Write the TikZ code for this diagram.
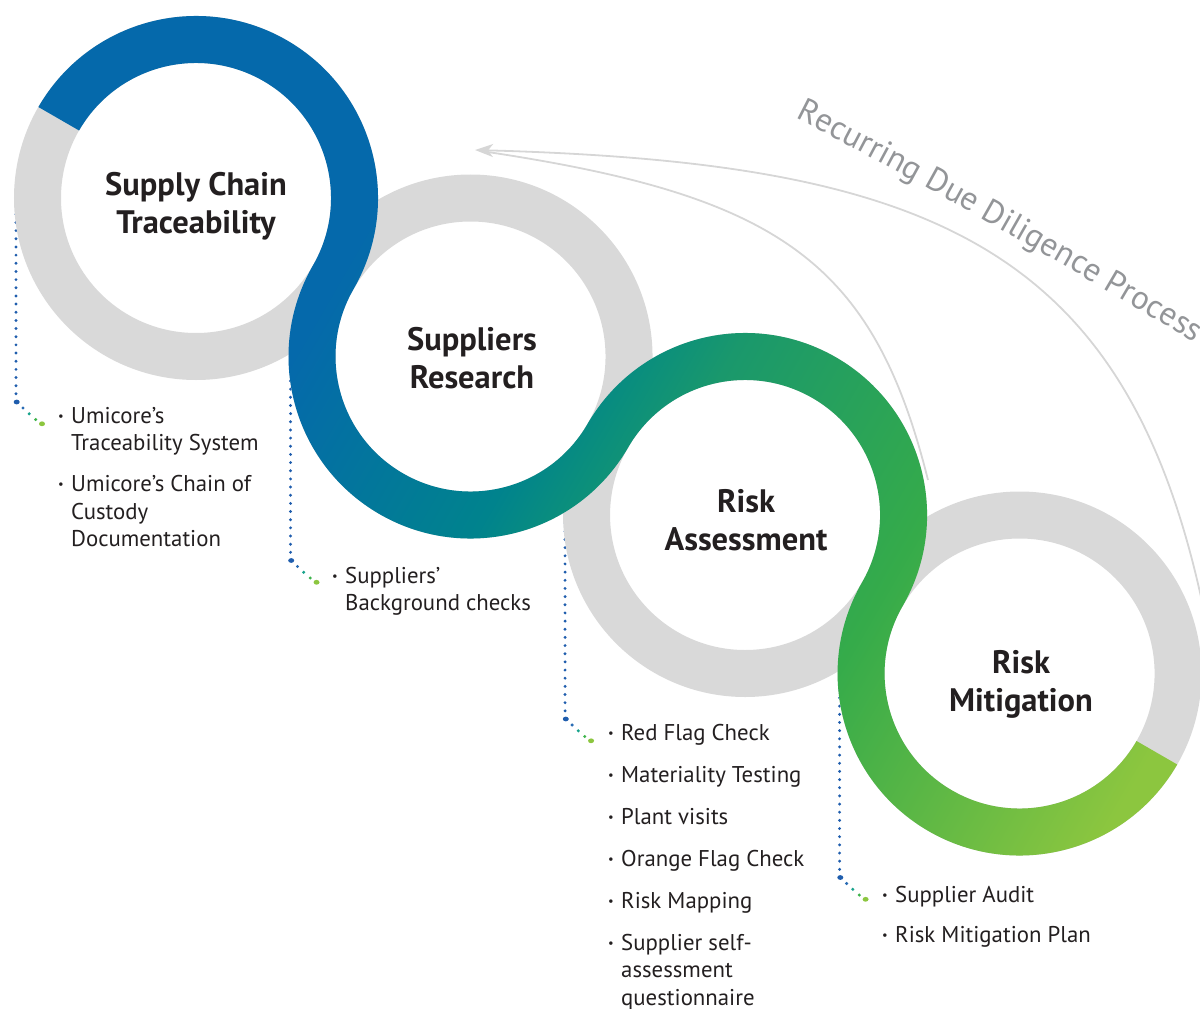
\documentclass[tikz,border=0pt]{standalone}
\usepackage{fontspec}
\setmainfont{PT Sans}
\usetikzlibrary{decorations.text, arrows.meta}

\definecolor{ringgray}{HTML}{D9D9D9}
\definecolor{arrowgray}{HTML}{D6D6D6}
\definecolor{labelgray}{HTML}{939598}
\definecolor{txt}{HTML}{231F20}
\definecolor{bandblue}{HTML}{0569AB}
\definecolor{bandteal}{HTML}{00838D}
\definecolor{bandtg}{HTML}{0B8F7C}
\definecolor{bandgt}{HTML}{1A986C}
\definecolor{bandgreen}{HTML}{35AB4A}
\definecolor{bandlime}{HTML}{8CC63F}
\definecolor{dotblue}{HTML}{1F5DAD}
\definecolor{dotblueb}{HTML}{2A6CB4}
\definecolor{dotteal}{HTML}{19A38C}
\definecolor{dotgreen}{HTML}{3CB34A}
\definecolor{dotlime}{HTML}{8CC63F}

\pgfdeclarehorizontalshading{bandshade}{100bp}{color(0bp)=(bandblue); color(38.9bp)=(bandblue); color(47.8bp)=(bandteal); color(50.2bp)=(bandtg); color(52.6bp)=(bandgt); color(61.5bp)=(bandgreen); color(72.8bp)=(bandlime); color(100bp)=(bandlime)}

\newcommand{\listbullet}{\makebox[13pt][l]{\raisebox{2.7pt}{\fontsize{12.5}{12.5}\selectfont •}}}
\newcommand{\contind}{\hspace*{13pt}}
\newcommand{\recfont}{\fontsize{33}{33}\selectfont}

\newcommand{\leaderdots}[1]{%
  \begin{scope}[shift={(#1)}]
    \draw[dotline] (-180,0) -- (-180,-195.84);
    \fill[dotblue] (-179.3,-204) ellipse[x radius=3pt, y radius=2.4pt];
    \fill[dotblueb] (-173,-210) circle[radius=1.7pt];
    \fill[dotteal] (-166.8,-215.8) circle[radius=1.7pt];
    \fill[dotgreen] (-160.3,-221.5) circle[radius=1.7pt];
    \fill[dotlime] (-154,-225.8) ellipse[x radius=3pt, y radius=2.4pt];
  \end{scope}}

\newcommand{\bandpath}{%
  ([shift={(150:182pt)}]c1) arc[start angle=150, end angle=-30, radius=182pt]
  arc[start angle=150, end angle=330, radius=135pt]
  arc[start angle=150, end angle=-30, radius=182pt]
  arc[start angle=150, end angle=330, radius=135pt]
  -- ([shift={(330:182pt)}]c4)
  arc[start angle=330, end angle=150, radius=182pt]
  arc[start angle=-30, end angle=150, radius=135pt]
  arc[start angle=330, end angle=150, radius=182pt]
  arc[start angle=-30, end angle=150, radius=135pt]
  -- cycle}

\begin{document}
\begin{tikzpicture}[x=1pt, y=1pt,
  titletext/.style={font={\fontsize{32.5}{38}\selectfont\bfseries}, text=txt, anchor=base, inner sep=0pt},
  listtext/.style={font={\fontsize{22.8}{27.5}\selectfont}, text=txt, anchor=base west, inner sep=0pt},
  ringbase/.style={draw=ringgray, line width=47pt},
  dotline/.style={draw=dotblue, line width=3.2pt, line cap=round, dash pattern=on 0pt off 8.16pt},
  arrowline/.style={draw=arrowgray, line width=1.8pt}]

\useasboundingbox (0,0) rectangle (1200,-1009);

\coordinate (c1) at (196,-198);
\coordinate (c2) at (470.53,-356.5);
\coordinate (c3) at (745.06,-515);
\coordinate (c4) at (1019.59,-673.5);

% leader dots (drawn beneath the rings)
\leaderdots{c1}
\leaderdots{c2}
\leaderdots{c3}
\leaderdots{c4}

% grey rings
\foreach \c in {c1,c2,c3,c4} \draw[ringbase] (\c) circle[radius=158.5pt];

% coloured band
\begin{scope}
  \clip \bandpath;
  \shade[shading=bandshade, shading angle=-30] (-100,260) rectangle (1300,-1140);
\end{scope}

% titles
\node[titletext] (t1) at (196,-195) {\begin{tabular}[t]{@{}c@{}}Supply Chain\\Traceability\end{tabular}};
\node[titletext] (t2) at (472,-350) {\begin{tabular}[t]{@{}c@{}}Suppliers\\Research\end{tabular}};
\node[titletext] (t3) at (746,-512) {\begin{tabular}[t]{@{}c@{}}Risk\\Assessment\end{tabular}};
\node[titletext] (t4) at (1021,-673) {\begin{tabular}[t]{@{}c@{}}Risk\\Mitigation\end{tabular}};

% lists
\node[listtext] (l1) at (58,-423) {\begin{tabular}[t]{@{}l@{}}\listbullet Umicore’s\\ \contind Traceability System\\[13.5pt] \listbullet Umicore’s Chain of\\ \contind Custody\\ \contind Documentation\end{tabular}};
\node[listtext] (l2) at (332,-583) {\begin{tabular}[t]{@{}l@{}}\listbullet Suppliers’\\ \contind Background checks\end{tabular}};
\node[listtext] (l3) at (608,-740) {\begin{tabular}[t]{@{}l@{}}\listbullet Red Flag Check\\[14.5pt] \listbullet Materiality Testing\\[14.5pt] \listbullet Plant visits\\[14.5pt] \listbullet Orange Flag Check\\[14.5pt] \listbullet Risk Mapping\\[14.5pt] \listbullet Supplier self-\\ \contind assessment\\ \contind questionnaire\end{tabular}};
\node[listtext] (l4) at (882,-902) {\begin{tabular}[t]{@{}l@{}}\listbullet Supplier Audit\\[12.5pt] \listbullet Risk Mitigation Plan\end{tabular}};

% recurring arrows
\coordinate (oA) at (1201,-597);
\coordinate (iA) at (928,-480);
\coordinate (tip) at (475,-150);
\coordinate (itip) at (481,-151);
\draw[arrowline] (iA) .. controls (873,-260) and (778,-195) .. (itip);
\draw[arrowline, -{Stealth[length=18pt, width=13pt, inset=5pt]}] (oA) .. controls (1123,-245) and (928,-162.5) .. (tip);

% label along the arrow
\coordinate (rs) at (795,-118);
\coordinate (re) at (1260,-382);
\path[decorate, decoration={text along path, text color=labelgray, text align=left,
  text={|\recfont|Recurring Due Diligence Process}}] (rs) .. controls (930,-186) and (1100,-285) .. (re);

\end{tikzpicture}
\end{document}
